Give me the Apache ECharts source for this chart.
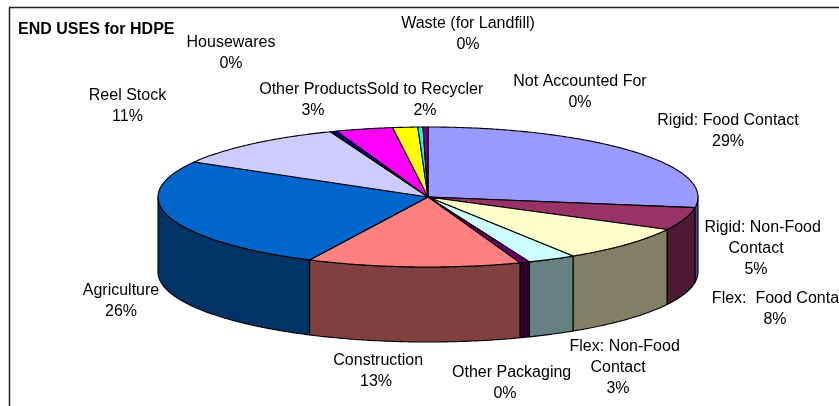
<!DOCTYPE html>
<html><head><meta charset="utf-8">
<style>html,body{margin:0;padding:0;background:#fff}#c{width:839px;height:406px}</style>
<script src="https://cdn.jsdelivr.net/npm/echarts@6/dist/echarts.min.js"></script>
</head><body><div id="c"></div>
<script>
// slice shares (percent), clockwise from 12 o'clock
const categories = ['Rigid: Food Contact','Rigid: Non-Food Contact','Flex:  Food Contact','Flex: Non-Food Contact','Other Packaging','Construction','Agriculture','Reel Stock','Housewares','Other Products','Sold to Recycler','Waste (for Landfill)','Not Accounted For'];
const sliceValues = [27.5,5.3,8.3,2.9,0.6,12.8,26.2,10.8,0.4,3.4,1.5,0.3,0.3];
const printedPercents = ['29%','5%','8%','3%','0%','13%','26%','11%','0%','3%','2%','0%','0%'];
const labelLines = ['Rigid: Food Contact','   Rigid: Non-Food\nContact','   Flex:  Food Contact','   Flex: Non-Food\nContact','   Other Packaging',' Construction','Agriculture','Reel Stock','Housewares','Other Products','Sold to Recycler','Waste (for Landfill)','Not Accounted For'];
const topColors = ['#9999FF','#993366','#FFFFCC','#CCFFFF','#660066','#FF8080','#0066CC','#CCCCFF','#000080','#FF00FF','#FFFF00','#00FFFF','#800080'];
const wallColors = ['#4C4C80','#4D1933','#808066','#668080','#330033','#804040','#003366','#666680','#000040','#800080','#808000','#008080','#400040'];
// label block centres in pixels
const labelAnchors = [[728,131.5],[756,249],[775,309.5],[618,368],[505,383],[376,371.5],[121,301.5],[127.5,106],[231,53.5],[313,100.5],[425,100.5],[468,34],[580,92.5]];

const DEG = Math.PI/180, DEPTH = 75/70;
const total = sliceValues.reduce((a,b)=>a+b,0);
let acc = 0;
const spans = sliceValues.map(v=>{const s=acc/total*360; acc+=v; return [s,acc/total*360];});
const rim = (t,drop)=>[Math.sin(t*DEG), Math.cos(t*DEG)-(drop||0)];
function arc(a,b,drop){const pts=[];const n=Math.max(2,Math.ceil((b-a)/0.5)+1);for(let i=0;i<n;i++){pts.push(rim(a+(b-a)*i/(n-1),drop));}return pts;}

const stroke = {stroke:'#000',lineWidth:1.1,lineJoin:'round'};
function topItem(params,api){
  const [a,b]=spans[api.value(0)];
  const pts=[[0,0]].concat(arc(a,b)).map(p=>api.coord(p));
  return {type:'polygon',shape:{points:pts},style:Object.assign({fill:topColors[api.value(0)]},stroke)};
}
function wallItem(params,api){
  const i=api.value(0);const a=Math.max(spans[i][0],90),b=Math.min(spans[i][1],270);
  if(b<=a) return null;
  const pts=arc(a,b).concat(arc(a,b,DEPTH).reverse()).map(p=>api.coord(p));
  return {type:'polygon',shape:{points:pts},style:Object.assign({fill:wallColors[i]},stroke)};
}
const rows = categories.map((c,i)=>({name:c,value:[i,sliceValues[i]]}));
const FONT='"Liberation Sans", Arial, sans-serif';
const chart = echarts.init(document.getElementById('c'),null,{renderer:'canvas'});
chart.setOption({
  animation:false,backgroundColor:'#fff',
  title:{text:'END USES for HDPE',left:18,top:22,padding:0,textStyle:{fontFamily:FONT,fontSize:16,fontWeight:'bold',color:'#000'}},
  grid:{left:158,top:127,width:540,height:140,containLabel:false},
  xAxis:{type:'value',min:-1,max:1,show:false},
  yAxis:{type:'value',min:-1,max:1,show:false},
  series:[
    {type:'custom',name:'walls',renderItem:wallItem,data:rows,clip:false,silent:true,z:2},
    {type:'custom',name:'tops',renderItem:topItem,data:rows,clip:false,silent:true,z:3}
  ],
  graphic:{elements:[
    {type:'line',shape:{x1:9.5,y1:8,x2:9.5,y2:406},style:{stroke:'#222',lineWidth:1.5},silent:true},
    {type:'line',shape:{x1:9,y1:7.5,x2:839,y2:7.5},style:{stroke:'#222',lineWidth:1.5},silent:true}
  ].concat(categories.map((c,i)=>({
    type:'text',x:labelAnchors[i][0],y:labelAnchors[i][1],silent:true,z:10,
    style:{text:labelLines[i]+'\n'+printedPercents[i],fontFamily:FONT,fontSize:16,lineHeight:21,fill:'#000',align:'center',verticalAlign:'middle'}
  })))}
});
</script></body></html>
